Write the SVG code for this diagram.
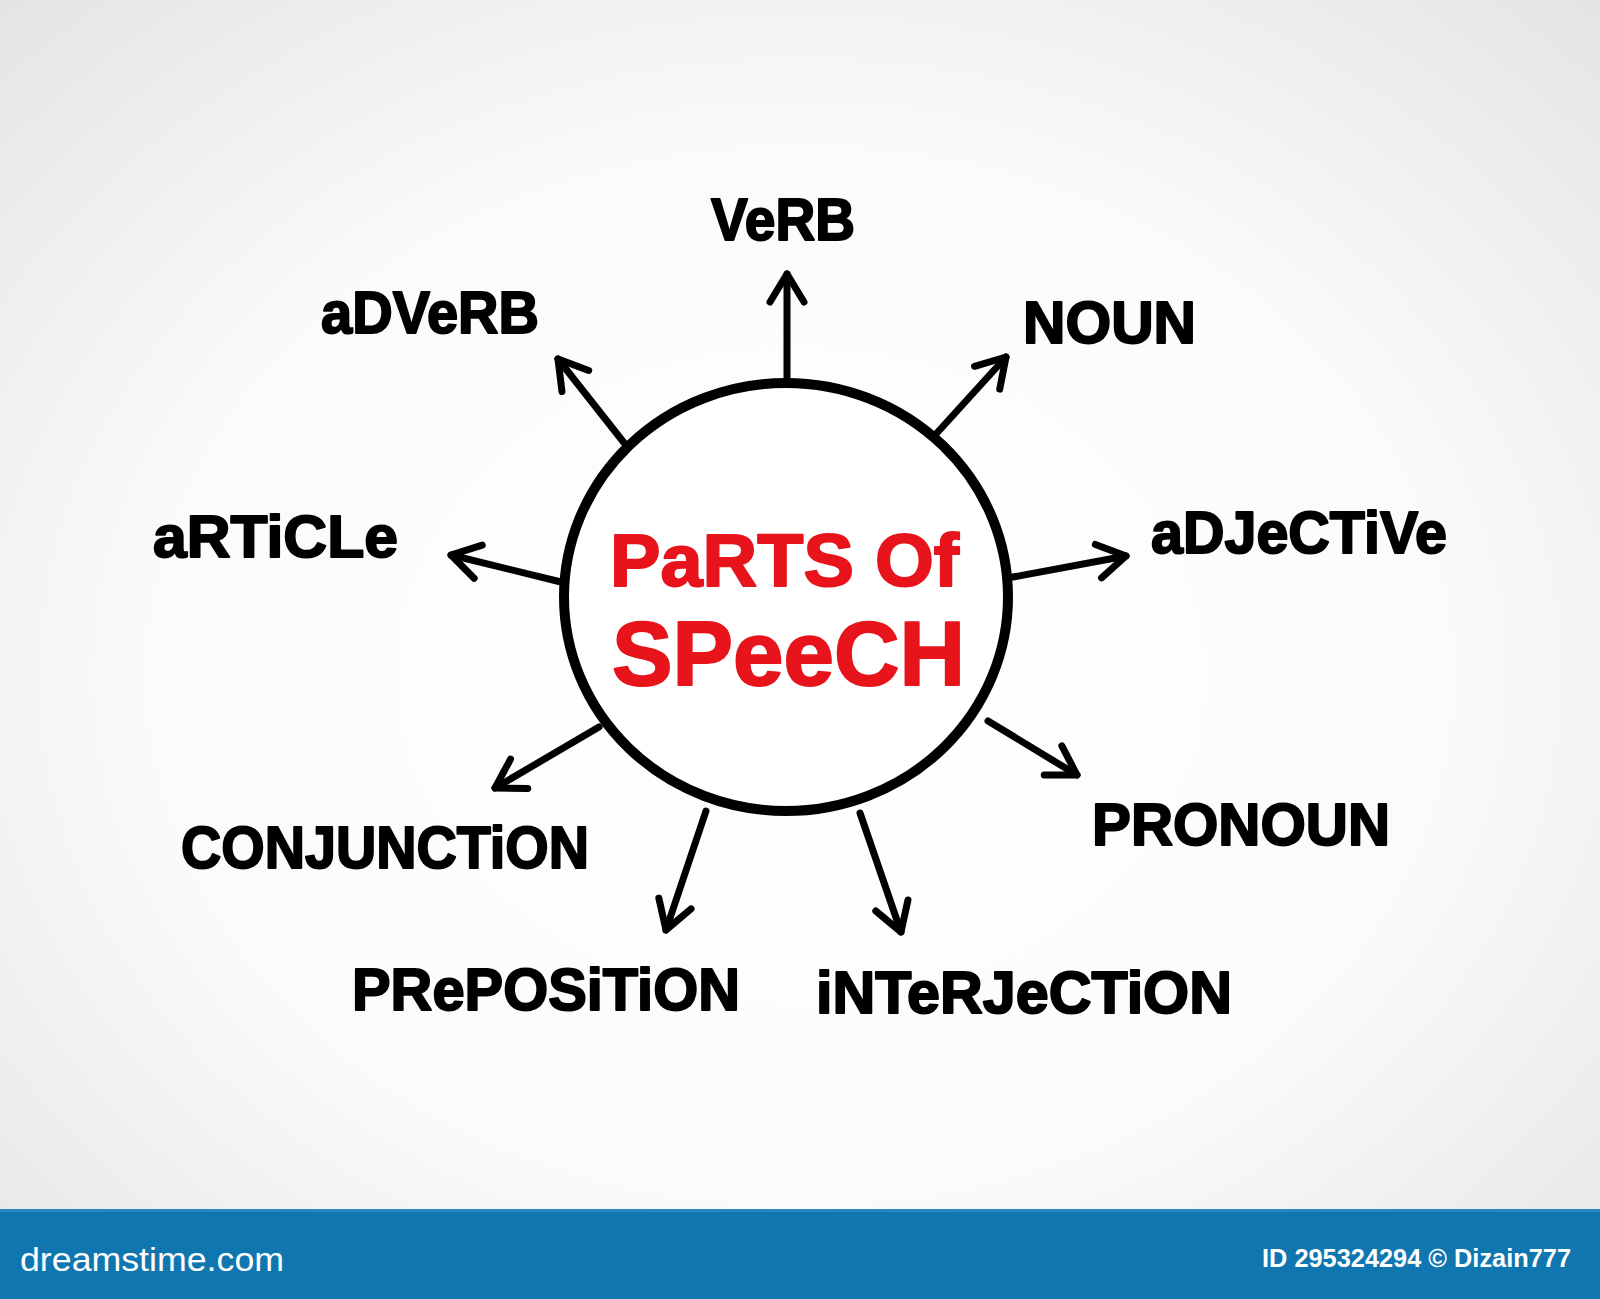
<svg xmlns="http://www.w3.org/2000/svg" width="1600" height="1299" viewBox="0 0 1600 1299">
  <defs>
    <radialGradient id="bg" cx="50%" cy="52%" r="72%">
      <stop offset="0" stop-color="#ffffff"/>
      <stop offset="0.55" stop-color="#fbfbfb"/>
      <stop offset="1" stop-color="#e4e4e4"/>
    </radialGradient>
    <marker id="arrow" markerUnits="userSpaceOnUse" markerWidth="60" markerHeight="60" viewBox="-40 -30 50 60" refX="0" refY="0" orient="auto">
      <path d="M-28,-17 L0,0 L-28,17" fill="none" stroke="#000" stroke-width="7" stroke-linecap="round" stroke-linejoin="round"/>
    </marker>
    <style>
      .lbl { font-family: "Liberation Sans", "DejaVu Sans", sans-serif; font-weight: bold; font-size: 60px; fill: #000; stroke: #000; stroke-width: 2; stroke-linejoin: round; }
      .title { font-family: "Liberation Sans", "DejaVu Sans", sans-serif; font-weight: bold; fill: #e8141b; stroke: #e8141b; stroke-width: 2; stroke-linejoin: round; }
      .conn { fill: none; stroke: #000; stroke-width: 7; stroke-linecap: round; marker-end: url(#arrow); }
      .foot { font-family: "Liberation Sans", "DejaVu Sans", sans-serif; fill: #ffffff; }
    </style>
  </defs>

  <rect x="0" y="0" width="1600" height="1299" fill="url(#bg)"/>

  <g id="center">
    <ellipse cx="786" cy="597" rx="222" ry="214" fill="#ffffff" stroke="#000" stroke-width="10"/>
    <text class="title" x="610" y="586" font-size="74" textLength="349" lengthAdjust="spacingAndGlyphs">PaRTS Of</text>
    <text class="title" x="612" y="685" font-size="90" textLength="353" lengthAdjust="spacingAndGlyphs">SPeeCH</text>
  </g>

  <g id="connectors">
    <line class="conn" x1="787" y1="380" x2="787" y2="274"/>
    <line class="conn" x1="625" y1="444" x2="558" y2="359"/>
    <line class="conn" x1="936" y1="434" x2="1006" y2="357"/>
    <line class="conn" x1="1013" y1="577" x2="1126" y2="556"/>
    <line class="conn" x1="561" y1="582" x2="451" y2="555"/>
    <line class="conn" x1="599" y1="727" x2="495" y2="788"/>
    <line class="conn" x1="988" y1="721" x2="1077" y2="775"/>
    <line class="conn" x1="706" y1="811" x2="666" y2="930"/>
    <line class="conn" x1="860" y1="813" x2="901" y2="932"/>
  </g>

  <g id="verb"><text class="lbl" x="711" y="240" textLength="144" lengthAdjust="spacingAndGlyphs">VeRB</text></g>
  <g id="adverb"><text class="lbl" x="321" y="333" textLength="218" lengthAdjust="spacingAndGlyphs">aDVeRB</text></g>
  <g id="noun"><text class="lbl" x="1023" y="343" textLength="173" lengthAdjust="spacingAndGlyphs">NOUN</text></g>
  <g id="adjective"><text class="lbl" x="1151" y="553" textLength="296" lengthAdjust="spacingAndGlyphs">aDJeCTiVe</text></g>
  <g id="article"><text class="lbl" x="153" y="557" textLength="245" lengthAdjust="spacingAndGlyphs">aRTiCLe</text></g>
  <g id="conjunction"><text class="lbl" x="181" y="868" textLength="408" lengthAdjust="spacingAndGlyphs">CONJUNCTiON</text></g>
  <g id="pronoun"><text class="lbl" x="1092" y="845" textLength="298" lengthAdjust="spacingAndGlyphs">PRONOUN</text></g>
  <g id="preposition"><text class="lbl" x="352" y="1010" textLength="388" lengthAdjust="spacingAndGlyphs">PRePOSiTiON</text></g>
  <g id="interjection"><text class="lbl" x="816" y="1013" textLength="416" lengthAdjust="spacingAndGlyphs">iNTeRJeCTiON</text></g>

  <g id="footer">
    <rect x="0" y="1209" width="1600" height="90" fill="#1076b0"/>
    <rect x="0" y="1209" width="1600" height="3" fill="#2a86bb"/>
    <text class="foot" x="20" y="1271" font-size="34" textLength="264" lengthAdjust="spacingAndGlyphs">dreamstime.com</text>
    <text class="foot" x="1262" y="1267" font-size="25" font-weight="bold" textLength="309" lengthAdjust="spacingAndGlyphs">ID 295324294 © Dizain777</text>
  </g>
</svg>
